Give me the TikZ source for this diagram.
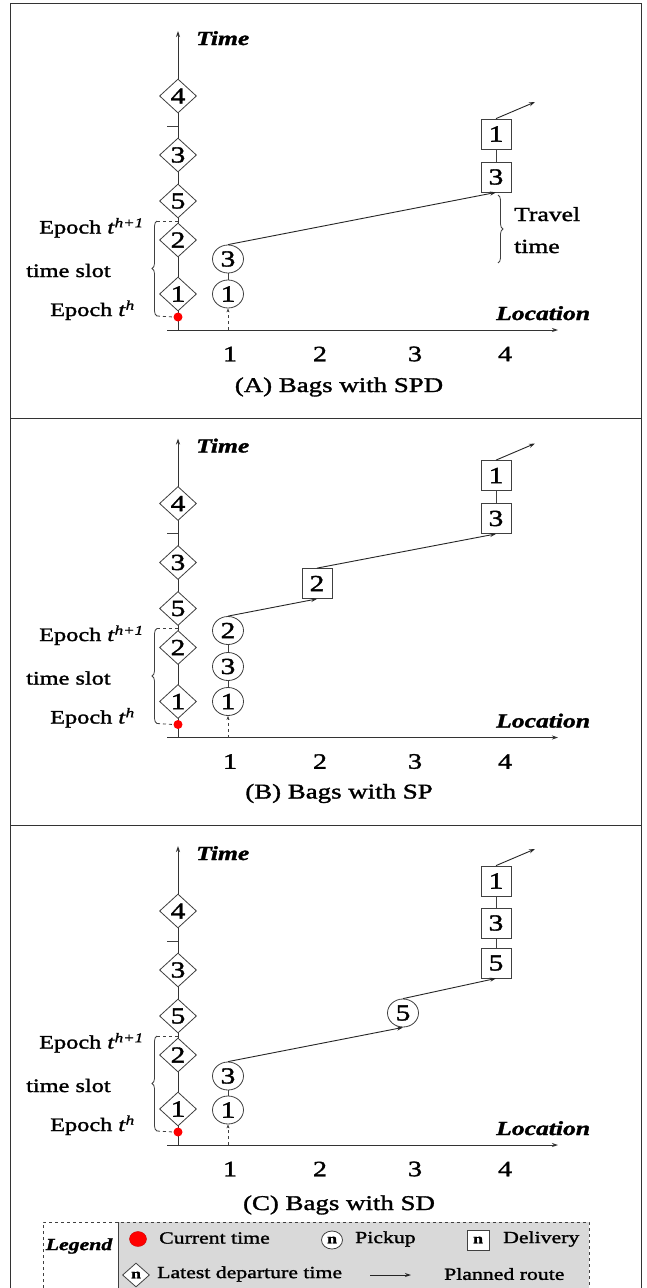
\documentclass[tikz,border=0pt]{standalone}
\usepackage{fontspec}
\setmainfont{Liberation Serif}[FakeStretch=1.28,FakeBold=1.5]
\usetikzlibrary{shapes.geometric,arrows.meta,decorations.pathreplacing}
\newcommand\fs[1]{\fontsize{#1}{#1}\selectfont}
\newcommand\panelcommon[1]{%
  \coordinate (xo#1) at (167,330);
  \coordinate (xe#1) at (558,330);
  \coordinate (tb#1) at (178,330);
  \coordinate (tt#1) at (178,31);
  \draw[ax] (xo#1) -- (xe#1);
  \draw[ax] (tb#1) -- (tt#1);
  \coordinate (tk#1) at (167,126);
  \coordinate (tka#1) at (178,126);
  \draw[thinl] (tk#1) -- (tka#1);
  \node[dmd] (d4#1) at (178,96) {4};
  \node[dmd] (d3#1) at (178,155) {3};
  \node[dmd] (d5#1) at (178,201) {5};
  \node[dmd] (d2#1) at (178,240) {2};
  \node[dmd] (d1#1) at (178,294) {1};
  \node[reddot] (cur#1) at (178,317) {};
  \coordinate (bt#1) at (157,221);
  \coordinate (bta#1) at (178,221);
  \coordinate (bb#1) at (157,316);
  \draw[thinl, decorate, decoration={brace, amplitude=5pt}] (bb#1) -- (bt#1);
  \draw[thinl, dashed] (bt#1) -- (bta#1);
  \draw[thinl, dashed] (bb#1) -- (cur#1.west);
  \node[lbl, anchor=base west] (ep1#1) at (39,233.5) {Epoch \textit{t}\textsuperscript{\textit{h+1}}};
  \node[lbl, anchor=base west] (ts#1) at (26,277) {time slot};
  \node[lbl, anchor=base west] (ep0#1) at (50,316) {Epoch \textit{t}\textsuperscript{\textit{h}}};
  \node[axl, anchor=base west] (tl#1) at (196,45) {Time};
  \node[axl, anchor=base west] (ll#1) at (496,320) {Location};
  \node[num] (n1#1) at (230,354) {1};
  \node[num] (n2#1) at (320,354) {2};
  \node[num] (n3#1) at (415,354) {3};
  \node[num] (n4#1) at (505,354) {4};
}
\begin{document}
\begin{tikzpicture}[x=1pt,y=-1pt,
  thinl/.style={line width=0.8pt, draw=black!75},
  ax/.style={line width=0.9pt, draw=black!80, -{Stealth[length=6pt,width=4pt]}},
  route/.style={line width=0.9pt, draw=black!85, -{Stealth[length=6pt,width=4pt]}},
  lbl/.style={font=\fs{19}, inner sep=0pt},
  axl/.style={font=\fs{20}\bfseries\itshape, inner sep=0pt},
  num/.style={font=\fs{22}, inner sep=0pt},
  captxt/.style={font=\fs{21}, inner sep=0pt},
  dmd/.style={diamond, draw=black!75, fill=white, line width=0.8pt, minimum width=37pt, minimum height=34pt, inner sep=0pt, font=\fs{23}},
  pk/.style={ellipse, draw=black!75, fill=white, line width=0.8pt, minimum width=31pt, minimum height=28pt, inner sep=0pt, font=\fs{23}},
  dl/.style={rectangle, draw=black!75, fill=white, line width=0.8pt, minimum width=30pt, minimum height=30pt, inner sep=0pt, font=\fs{23}},
  reddot/.style={circle, fill=red, inner sep=0pt, minimum size=9pt},
  lg/.style={font=\fs{17}, inner sep=0pt, anchor=west},
]
\useasboundingbox (0,0) rectangle (647,1288);
\clip (0,0) rectangle (647,1288);
\fill[white] (0,0) rectangle (647,1288);
% frame
\coordinate (f1) at (10,1300);
\coordinate (f2) at (10,3);
\coordinate (f3) at (641,3);
\coordinate (f4) at (641,1300);
\draw[line width=1pt, black!80] (f1) -- (f2) -- (f3) -- (f4);
\coordinate (s1l) at (10,418);
\coordinate (s1r) at (641,418);
\coordinate (s2l) at (10,825);
\coordinate (s2r) at (641,825);
\draw[line width=1pt, black!80] (s1l) -- (s1r);
\draw[line width=1pt, black!80] (s2l) -- (s2r);

% ---------- Panel A ----------
\begin{scope}
\panelcommon{a}
\node[pk] (a3) at (228,259) {3};
\node[pk] (a1) at (228,294) {1};
\draw[thinl] (a3) -- (a1);
\coordinate (aax) at (228,330);
\draw[thinl, dashed, -{Stealth[length=4pt,width=3pt]}] (aax) -- (a1.south);
\node[dl] (ab1) at (496,134) {1};
\node[dl] (ab3) at (496,177) {3};
\draw[thinl] (ab1) -- (ab3);
\draw[route] (a3.north) -- (ab3.south);
\coordinate (aend) at (535,102);
\draw[route] (ab1.north) -- (aend);
\coordinate (tr1) at (498,195);
\coordinate (tr2) at (498,263);
\draw[thinl, decorate, decoration={brace, amplitude=5pt}] (tr1) -- (tr2);
\node[lbl, font=\fs{20}, anchor=base west] (trv) at (514,221) {Travel};
\node[lbl, font=\fs{20}, anchor=base west] (trt) at (514,253) {time};
\node[captxt] (capa) at (339,387) {(A) Bags with SPD};
\end{scope}

% ---------- Panel B ----------
\begin{scope}[shift={(0,407.5)}]
\panelcommon{b}
\node[pk] (b2) at (228,223) {2};
\node[pk] (b3) at (228,259) {3};
\node[pk] (b1) at (228,294) {1};
\draw[thinl] (b2) -- (b3);
\draw[thinl] (b3) -- (b1);
\coordinate (bax) at (228,330);
\draw[thinl, dashed, -{Stealth[length=4pt,width=3pt]}] (bax) -- (b1.south);
\node[dl] (bm2) at (317,176) {2};
\node[dl] (bb1) at (496,68) {1};
\node[dl] (bb3) at (496,111) {3};
\draw[thinl] (bb1) -- (bb3);
\draw[route] (b2.north) -- (bm2.south);
\draw[route] (bm2.north) -- (bb3.south);
\coordinate (bend) at (535,36);
\draw[route] (bb1.north) -- (bend);
\node[captxt] (capb) at (339,386) {(B) Bags with SP};
\end{scope}

% ---------- Panel C ----------
\begin{scope}[shift={(0,815)}]
\panelcommon{c}
\node[pk] (c3) at (228,261) {3};
\node[pk] (c1) at (228,295) {1};
\draw[thinl] (c3) -- (c1);
\coordinate (cax) at (228,330);
\draw[thinl, dashed, -{Stealth[length=4pt,width=3pt]}] (cax) -- (c1.south);
\node[pk] (c5) at (403,198) {5};
\node[dl] (cb1) at (496,66) {1};
\node[dl] (cb3) at (496,108) {3};
\node[dl] (cb5) at (496,148) {5};
\draw[thinl] (cb1) -- (cb3);
\draw[thinl] (cb3) -- (cb5);
\draw[route] (c3.north) -- (c5.south);
\draw[route] (c5.north) -- (cb5.south);
\coordinate (cend) at (535,34);
\draw[route] (cb1.north) -- (cend);
\node[captxt] (capc) at (339,390) {(C) Bags with SD};
\end{scope}

% ---------- Legend ----------
\fill[black!15] (118,1222) rectangle (589,1300);
\coordinate (l1) at (43,1300);
\coordinate (l2) at (43,1222);
\coordinate (l3) at (589,1222);
\coordinate (l4) at (589,1300);
\draw[thinl, dashed] (l1) -- (l2) -- (l3) -- (l4);
\coordinate (dv1) at (118,1222);
\coordinate (dv2) at (118,1300);
\draw[thinl] (dv1) -- (dv2);
\node[font=\fs{17}\bfseries\itshape, inner sep=0pt] (lgt) at (79,1246) {Legend};
\node[ellipse, fill=red, draw=red!80!black, inner sep=0pt, minimum width=17pt, minimum height=15pt] (lgred) at (138,1239) {};
\node[lg] (lgcur) at (159,1238) {Current time};
\node[ellipse, draw=black!75, fill=white, line width=0.8pt, inner sep=0pt, minimum width=21pt, minimum height=18pt, font=\fs{14}\bfseries] (lgpk) at (332,1240) {n};
\node[lg] (lgpkt) at (355,1239) {Pickup};
\node[rectangle, draw=black!75, fill=white, line width=0.8pt, inner sep=0pt, minimum width=22pt, minimum height=20pt, font=\fs{14}\bfseries] (lgdl) at (478,1240) {n};
\node[lg] (lgdlt) at (503,1239) {Delivery};
\node[diamond, draw=black!75, fill=white, line width=0.8pt, inner sep=0pt, minimum width=27pt, minimum height=24pt, font=\fs{14}\bfseries] (lgdm) at (136,1275) {n};
\node[lg] (lgdmt) at (157,1274) {Latest departure time};
\coordinate (lga1) at (370,1275);
\coordinate (lga2) at (411,1275);
\draw[route] (lga1) -- (lga2);
\node[lg] (lgrt) at (444,1274) {Planned route};
\end{tikzpicture}
\end{document}
